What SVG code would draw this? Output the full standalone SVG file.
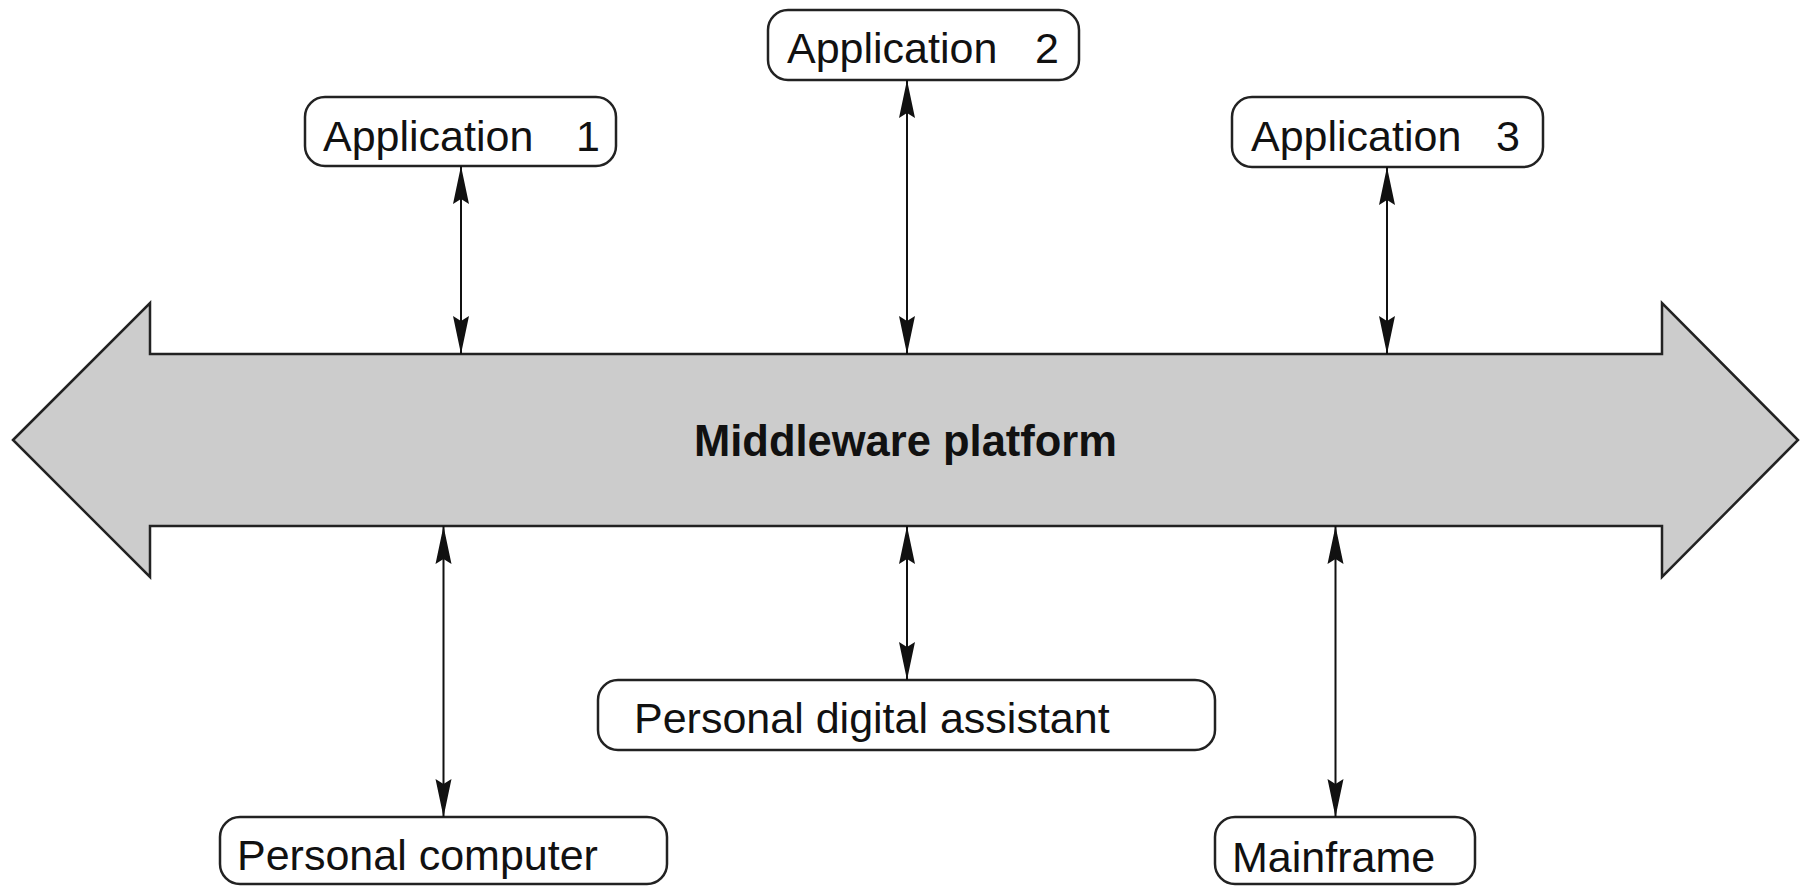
<svg xmlns="http://www.w3.org/2000/svg" width="1802" height="886" viewBox="0 0 1802 886">
<style>
.box{fill:#fff;stroke:#222;stroke-width:2.5}
.lbl{font-family:"Liberation Sans",Arial,sans-serif;font-size:43px;fill:#111}
.bold{font-weight:bold;font-size:43.5px}
.con{stroke:#111;stroke-width:2;fill:none;marker-start:url(#ah);marker-end:url(#ah)}
</style>
<defs>
<marker id="ah" markerUnits="userSpaceOnUse" viewBox="0 0 38 18" refX="38" refY="9" markerWidth="38" markerHeight="18" orient="auto-start-reverse">
<path d="M0,1 L38,9 L0,17 L5,9 z" fill="#111"/>
</marker>
</defs>
<rect width="1802" height="886" fill="#fff"/>
<g id="middleware">
<polygon points="13,440 150,303 150,354 1662,354 1662,303 1798,440 1662,577 1662,526 150,526 150,577" fill="#cccccc" stroke="#222" stroke-width="2.5" stroke-linejoin="miter"/>
<text class="lbl bold" x="694" y="456">Middleware platform</text>
</g>
<g id="app1">
<rect class="box" x="305" y="97" width="311" height="69" rx="20"/>
<text class="lbl" x="323" y="151">Application <tspan x="576">1</tspan></text>
</g>
<g id="app2">
<rect class="box" x="768" y="10" width="311" height="70" rx="20"/>
<text class="lbl" x="787" y="63">Application <tspan x="1035">2</tspan></text>
</g>
<g id="app3">
<rect class="box" x="1232" y="97" width="311" height="70" rx="20"/>
<text class="lbl" x="1251" y="151">Application <tspan x="1496">3</tspan></text>
</g>
<g id="pc">
<rect class="box" x="220" y="817" width="447" height="67" rx="20"/>
<text class="lbl" x="237" y="870">Personal computer</text>
</g>
<g id="pda">
<rect class="box" x="598" y="680" width="617" height="70" rx="20"/>
<text class="lbl" x="634" y="733">Personal digital assistant</text>
</g>
<g id="mainframe">
<rect class="box" x="1215" y="817" width="260" height="67" rx="20"/>
<text class="lbl" x="1232" y="872">Mainframe</text>
</g>
<g id="connectors">
<line class="con" x1="461" y1="166" x2="461" y2="354"/>
<line class="con" x1="907" y1="80" x2="907" y2="354"/>
<line class="con" x1="1387" y1="167" x2="1387" y2="354"/>
<line class="con" x1="443.5" y1="526" x2="443.5" y2="817"/>
<line class="con" x1="907" y1="526" x2="907" y2="680"/>
<line class="con" x1="1335.5" y1="526" x2="1335.5" y2="817"/>
</g>
</svg>
